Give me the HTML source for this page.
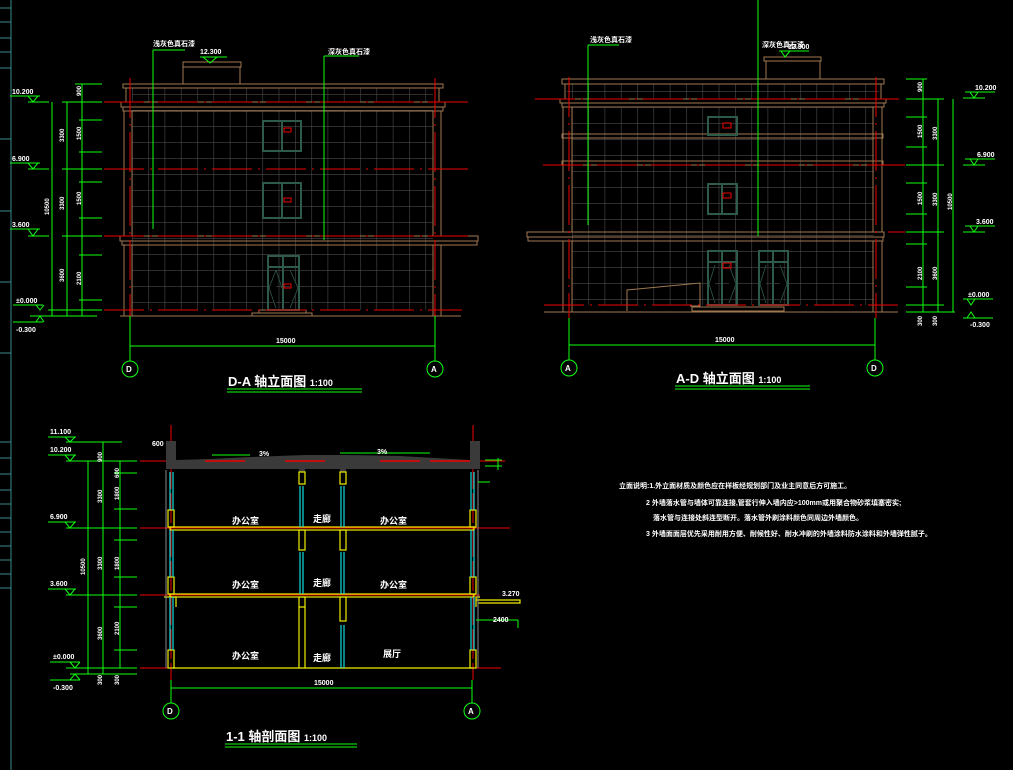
<!DOCTYPE html>
<html><head><meta charset="utf-8"><style>
html,body{margin:0;padding:0;background:#000;width:1013px;height:770px;overflow:hidden}
svg{display:block}
text{font-family:"Liberation Sans","Noto Sans CJK SC",sans-serif;fill:#fff;font-weight:bold}
</style></head><body>
<svg width="1013" height="770" viewBox="0 0 1013 770" xmlns="http://www.w3.org/2000/svg">
<defs>
<pattern id="g1" x="132" y="110" width="16.3" height="16" patternUnits="userSpaceOnUse"><path d="M0 0V16M0 0H16.3" stroke="#4a4a4a" stroke-width="1.2" fill="none"/></pattern>
<pattern id="g2" x="572" y="107" width="16.3" height="16" patternUnits="userSpaceOnUse"><path d="M0 0V16M0 0H16.3" stroke="#4a4a4a" stroke-width="1.2" fill="none"/></pattern>
</defs>
<g stroke="#3a8a8a" stroke-width="1">
<line x1="11" y1="0" x2="11" y2="770"/>
<path d="M0 8H11M0 22H11M0 38H11M0 52H11M0 68H11M0 139H11M0 211H11M0 282H11M0 353H11M0 442H11M0 458H11M0 474H11M0 490H11M0 504H11M0 518H11M0 532H11M0 546H11M0 560H11M0 574H11M0 588H11"/>
</g>

<rect x="132" y="110" width="301" height="200" fill="url(#g1)"/>
<rect x="132" y="88" width="301" height="14" fill="url(#g1)"/>
<g stroke="#a07850" stroke-width="1" fill="none">
<rect x="183" y="67" width="57" height="17"/><rect x="183" y="62" width="58" height="5"/>
<rect x="123" y="84" width="320" height="4"/><rect x="126" y="88" width="313" height="14"/>
<rect x="121" y="102" width="324" height="5"/><rect x="123" y="107" width="320" height="4"/>
<rect x="124" y="111" width="8" height="125"/><rect x="433" y="111" width="8" height="125"/>
<rect x="120" y="236" width="358" height="5"/><rect x="122" y="241" width="355" height="4"/>
<rect x="124" y="245" width="8" height="71"/><rect x="433" y="245" width="8" height="71"/>
<line x1="120" y1="316" x2="461" y2="316"/>
<rect x="259" y="310" width="47" height="3"/><rect x="252" y="313" width="60" height="3"/>
</g>
<g stroke="#2e5a4a" stroke-width="2" fill="none">
<rect x="263" y="121" width="38" height="30"/><line x1="282" y1="121" x2="282" y2="151"/>
<rect x="263" y="183" width="38" height="35"/><line x1="282" y1="183" x2="282" y2="218"/>
<rect x="268" y="256" width="31" height="54"/><line x1="283" y1="256" x2="283" y2="310"/><line x1="268" y1="267" x2="299" y2="267"/>
</g>
<g stroke="#2e5a4a" stroke-width="0.8"><path d="M276 270L269 288L276 308M276 270L282 288M290 270L298 288L290 308"/></g>
<g stroke="#e00" stroke-width="1" fill="none"><rect x="284" y="128" width="7" height="4"/><rect x="284" y="198" width="7" height="4"/><rect x="284" y="284" width="7" height="4"/></g>
<g stroke="#e00" stroke-width="1" stroke-dasharray="40,6,2,6">
<line x1="104" y1="102" x2="470" y2="102"/><line x1="104" y1="169" x2="470" y2="169"/>
<line x1="104" y1="236" x2="470" y2="236"/><line x1="104" y1="310" x2="462" y2="310"/>
<line x1="130" y1="78" x2="130" y2="322"/><line x1="435" y1="78" x2="435" y2="322"/>
</g>
<g stroke="#1f1" stroke-width="1" fill="none">
<line x1="153" y1="50" x2="153" y2="229"/><line x1="153" y1="50" x2="185" y2="50"/>
<line x1="324" y1="56" x2="324" y2="240"/><line x1="324" y1="56" x2="359" y2="56"/>
<line x1="200" y1="57" x2="227" y2="57"/><path d="M203 57L210 63L217 57"/>
<line x1="52" y1="102" x2="52" y2="316"/><line x1="67" y1="102" x2="67" y2="316"/><line x1="82" y1="84" x2="82" y2="316"/>
<path d="M75 84H102M62 102H102M79 120H102M79 152H102M62 169H102M79 182H102M79 218H102M62 236H102M79 255H102M79 300H102M48 310H102M30 316H97"/>
<path d="M10 96H40M28 96L33 102L38 96M28 102H49M10 163H40M28 163L33 169L38 163M28 169H49M10 229H40M28 229L33 236L38 229M28 236H49M13 305H43M36 305L40 310L44 305M13 322H43M36 322L40 316L44 322"/>
<line x1="130" y1="316" x2="130" y2="361"/><line x1="435" y1="316" x2="435" y2="361"/>
<line x1="130" y1="346" x2="435" y2="346"/>
<circle cx="130" cy="369" r="8"/><circle cx="435" cy="369" r="8"/>
<line x1="227" y1="389" x2="362" y2="389"/><line x1="227" y1="392" x2="362" y2="392"/>
</g>
<g font-size="7">
<text x="153" y="46">浅灰色真石漆</text><text x="328" y="54">深灰色真石漆</text><text x="200" y="54">12.300</text>
<text x="12" y="94">10.200</text><text x="12" y="161">6.900</text><text x="12" y="227">3.600</text><text x="16" y="303">±0.000</text><text x="16" y="332">-0.300</text>
<text x="276" y="343">15000</text>
</g>
<g font-size="6"><text transform="translate(81,96) rotate(-90)">900</text><text transform="translate(81,140) rotate(-90)">1500</text><text transform="translate(81,205) rotate(-90)">1500</text><text transform="translate(81,285) rotate(-90)">2100</text><text transform="translate(64,142) rotate(-90)">3300</text><text transform="translate(64,210) rotate(-90)">3300</text><text transform="translate(64,282) rotate(-90)">3600</text><text transform="translate(49,215) rotate(-90)">10500</text></g>
<text x="126" y="372" font-size="8">D</text><text x="431" y="372" font-size="8">A</text>
<text x="228" y="386" font-size="13" font-weight="normal">D-A  轴立面图 <tspan font-size="9">  1:100</tspan></text>

<rect x="572" y="107" width="302" height="198" fill="url(#g2)"/>
<rect x="567" y="84" width="312" height="15" fill="url(#g2)"/>
<g stroke="#a07850" stroke-width="1" fill="none">
<rect x="766" y="61" width="54" height="18"/><rect x="764" y="57" width="57" height="4"/>
<rect x="562" y="79" width="322" height="5"/><rect x="565" y="84" width="316" height="15"/>
<rect x="560" y="99" width="326" height="4"/><rect x="562" y="103" width="322" height="4"/>
<rect x="563" y="107" width="9" height="125"/><rect x="873" y="107" width="9" height="125"/>
<rect x="562" y="134" width="321" height="4"/><rect x="562" y="161" width="321" height="4"/>
<rect x="527" y="232" width="357" height="5"/><rect x="528" y="237" width="355" height="4"/>
<rect x="563" y="241" width="9" height="71"/><rect x="873" y="241" width="9" height="71"/>
<line x1="544" y1="312" x2="898" y2="312"/>
<path d="M627 311V290L700 283V306H690"/><rect x="692" y="307" width="92" height="4"/>
</g>
<g stroke="#2e5a4a" stroke-width="2" fill="none">
<rect x="708" y="117" width="29" height="18"/>
<rect x="708" y="184" width="29" height="30"/><line x1="722" y1="184" x2="722" y2="214"/>
<rect x="708" y="251" width="29" height="54"/><line x1="722" y1="251" x2="722" y2="305"/><line x1="708" y1="262" x2="737" y2="262"/>
<rect x="759" y="251" width="29" height="54"/><line x1="773" y1="251" x2="773" y2="305"/><line x1="759" y1="262" x2="788" y2="262"/>
</g>
<g stroke="#2e5a4a" stroke-width="0.8"><path d="M715 265L709 284L715 303M729 265L736 284L729 303M766 265L760 284L766 303M780 265L787 284L780 303"/></g>
<g stroke="#e00" stroke-width="1" fill="none"><rect x="723" y="123" width="8" height="5"/><rect x="723" y="193" width="8" height="5"/><rect x="723" y="263" width="8" height="5"/></g>
<g stroke="#e00" stroke-width="1" stroke-dasharray="40,6,2,6">
<line x1="535" y1="99" x2="905" y2="99"/><line x1="543" y1="165" x2="905" y2="165"/>
<line x1="888" y1="232" x2="905" y2="232"/><line x1="544" y1="305" x2="898" y2="305"/>
<line x1="569" y1="77" x2="569" y2="318"/><line x1="876" y1="77" x2="876" y2="318"/>
</g>
<g stroke="#1f1" stroke-width="1" fill="none">
<line x1="588" y1="45" x2="588" y2="225"/><line x1="588" y1="45" x2="619" y2="45"/>
<line x1="758" y1="0" x2="758" y2="236"/>
<line x1="779" y1="51" x2="809" y2="51"/><path d="M781 51L785 57L790 51"/>
<line x1="923" y1="79" x2="923" y2="312"/><line x1="938" y1="99" x2="938" y2="312"/><line x1="953" y1="99" x2="953" y2="312"/>
<path d="M906 79H927M906 99H944M906 117H927M906 147H927M906 165H944M906 183H927M906 214H927M906 232H944M906 244H927M906 287H927M906 305H944M906 312H955"/>
<path d="M965 92H995M970 92L974 98L978 92M963 98H985M965 159H995M970 159L974 165L978 159M963 165H985M965 226H995M970 226L974 232L978 226M963 232H985M963 299H993M967 299L971 305L975 299M963 318H993M967 318L971 312L975 318"/>
<line x1="569" y1="318" x2="569" y2="360"/><line x1="875" y1="318" x2="875" y2="360"/>
<line x1="569" y1="345" x2="875" y2="345"/>
<circle cx="569" cy="368" r="8"/><circle cx="875" cy="368" r="8"/>
<line x1="675" y1="386" x2="810" y2="386"/><line x1="675" y1="389" x2="810" y2="389"/>
</g>
<g font-size="7">
<text x="590" y="42">浅灰色真石漆</text><text x="762" y="47">深灰色真石漆</text><text x="788" y="49">12.300</text>
<text x="975" y="90">10.200</text><text x="977" y="157">6.900</text><text x="976" y="224">3.600</text><text x="968" y="297">±0.000</text><text x="970" y="327">-0.300</text>
<text x="715" y="342">15000</text>
</g>
<g font-size="6"><text transform="translate(922,92) rotate(-90)">900</text><text transform="translate(922,138) rotate(-90)">1500</text><text transform="translate(922,205) rotate(-90)">1500</text><text transform="translate(922,280) rotate(-90)">2100</text><text transform="translate(937,140) rotate(-90)">3300</text><text transform="translate(937,206) rotate(-90)">3300</text><text transform="translate(937,280) rotate(-90)">3600</text><text transform="translate(952,210) rotate(-90)">10500</text><text transform="translate(922,326) rotate(-90)">300</text><text transform="translate(937,326) rotate(-90)">300</text></g>
<text x="565" y="371" font-size="8">A</text><text x="871" y="371" font-size="8">D</text>
<text x="676" y="383" font-size="13" font-weight="normal">A-D  轴立面图 <tspan font-size="9">  1:100</tspan></text>

<g stroke="#e00" stroke-width="1">
<line x1="140" y1="461" x2="505" y2="461"/><line x1="140" y1="528" x2="510" y2="528"/><line x1="140" y1="595" x2="480" y2="595"/><line x1="140" y1="668" x2="501" y2="668"/>
<line x1="171" y1="425" x2="171" y2="680" stroke-dasharray="30,4"/><line x1="473" y1="425" x2="473" y2="680" stroke-dasharray="30,4"/>
</g>
<path d="M166 441H176V460L210 459L250 457L305 455L345 455L400 456L470 460V441H480V469H166Z" fill="#3a3a3a"/>
<g fill="#3a3a3a"><rect x="299" y="458" width="6" height="14"/><rect x="340" y="458" width="6" height="14"/></g>
<g stroke="#e00" stroke-width="1.5"><path d="M205 461H245M285 461H325M380 461H420M430 461H470"/></g>
<g stroke="#ee0" stroke-width="1.2" fill="none">
<rect x="170" y="527" width="304" height="3"/><rect x="170" y="594" width="304" height="3"/>
<line x1="173" y1="668" x2="473" y2="668"/>
<rect x="299" y="472" width="6" height="12"/><rect x="340" y="472" width="6" height="12"/>
<rect x="299" y="530" width="6" height="20"/><rect x="340" y="530" width="6" height="20"/>
<rect x="299" y="597" width="6" height="10"/><rect x="340" y="597" width="6" height="24"/>
<line x1="299" y1="607" x2="299" y2="668"/><line x1="305" y1="607" x2="305" y2="668"/>
<rect x="168" y="510" width="6" height="17"/><rect x="168" y="577" width="6" height="17"/><rect x="168" y="650" width="6" height="18"/>
<rect x="470" y="510" width="6" height="17"/><rect x="470" y="577" width="6" height="17"/><rect x="470" y="650" width="6" height="18"/>
<path d="M164 597H176V607M480 597H476V607M476 600H520V603H478"/>
</g>
<g stroke="#1dd" stroke-width="1.2">
<path d="M170 472V510M173 472V510M170 530V577M173 530V577M170 597V650M173 597V650"/>
<path d="M471 472V510M474 472V510M471 530V577M474 530V577M471 597V650M474 597V650"/>
<path d="M300 486V527M303 486V527M300 552V594M303 552V594M341 486V527M344 486V527M341 552V594M344 552V594M341 625V668M344 625V668"/>
</g>
<line x1="166" y1="470" x2="166" y2="668" stroke="#888"/><line x1="478" y1="470" x2="478" y2="668" stroke="#888"/>
<g stroke="#1f1" stroke-width="1" fill="none">
<line x1="88" y1="461" x2="88" y2="674"/><line x1="103" y1="442" x2="103" y2="674"/><line x1="120" y1="461" x2="120" y2="668"/>
<path d="M66 442H122M66 461H137M114 473H137M114 509H137M66 528H137M114 540H137M114 577H137M66 595H137M114 607H137M114 650H137M66 668H137M70 674H137"/>
<path d="M48 437H76M65 437L70 442L75 437M48 455H76M65 455L70 461L75 455M48 522H76M65 522L70 528L75 522M48 589H76M65 589L70 595L75 589M50 662H80M70 662L75 668L80 662M50 680H80M70 680L75 674L80 680"/>
<line x1="171" y1="680" x2="171" y2="703"/><line x1="472" y1="680" x2="472" y2="703"/>
<line x1="171" y1="688" x2="472" y2="688"/>
<circle cx="171" cy="711" r="8"/><circle cx="472" cy="711" r="8"/>
<line x1="225" y1="744" x2="357" y2="744"/><line x1="225" y1="747" x2="357" y2="747"/>
<path d="M212 455H250M340 453H430M485 460H502M485 466H502M476 620H518M518 620V628M498 458V470M478 482H490"/>
</g>
<g font-size="7">
<text x="50" y="434">11.100</text><text x="50" y="452">10.200</text><text x="50" y="519">6.900</text><text x="50" y="586">3.600</text><text x="53" y="659">±0.000</text><text x="53" y="690">-0.300</text>
<text x="259" y="456">3%</text><text x="377" y="454">3%</text><text x="152" y="446">600</text><text x="502" y="596">3.270</text><text x="493" y="622">2400</text>
<text x="314" y="685">15000</text>
<text x="232" y="524" font-size="9">办公室</text><text x="313" y="522" font-size="9">走廊</text><text x="380" y="524" font-size="9">办公室</text>
<text x="232" y="588" font-size="9">办公室</text><text x="313" y="586" font-size="9">走廊</text><text x="380" y="588" font-size="9">办公室</text>
<text x="232" y="659" font-size="9">办公室</text><text x="313" y="661" font-size="9">走廊</text><text x="383" y="657" font-size="9">展厅</text>
</g>
<g font-size="6"><text transform="translate(102,462) rotate(-90)">900</text><text transform="translate(119,478) rotate(-90)">600</text><text transform="translate(119,500) rotate(-90)">1800</text><text transform="translate(102,503) rotate(-90)">3300</text><text transform="translate(102,570) rotate(-90)">3300</text><text transform="translate(119,570) rotate(-90)">1800</text><text transform="translate(102,640) rotate(-90)">3600</text><text transform="translate(119,635) rotate(-90)">2100</text><text transform="translate(85,575) rotate(-90)">10500</text><text transform="translate(102,685) rotate(-90)">300</text><text transform="translate(119,685) rotate(-90)">300</text></g>
<text x="167" y="714" font-size="8">D</text><text x="468" y="714" font-size="8">A</text>
<text x="226" y="741" font-size="13" font-weight="normal">1-1  轴剖面图 <tspan font-size="9">  1:100</tspan></text>

<g font-size="7">
<text x="619" y="488">立面说明:1.外立面材质及颜色应在样板经规划部门及业主同意后方可施工。</text>
<text x="646" y="505">2 外墙落水管与墙体可靠连接,管套行伸入墙内应&gt;100mm或用聚合物砂浆填塞密实;</text>
<text x="653" y="520">落水管与连接处斜连型断开。落水管外刷涂料颜色同周边外墙颜色。</text>
<text x="646" y="536">3 外墙面面层优先采用耐用方便、耐候性好、耐水冲刷的外墙涂料防水涂料和外墙弹性腻子。</text>
</g>
</svg>
</body></html>
